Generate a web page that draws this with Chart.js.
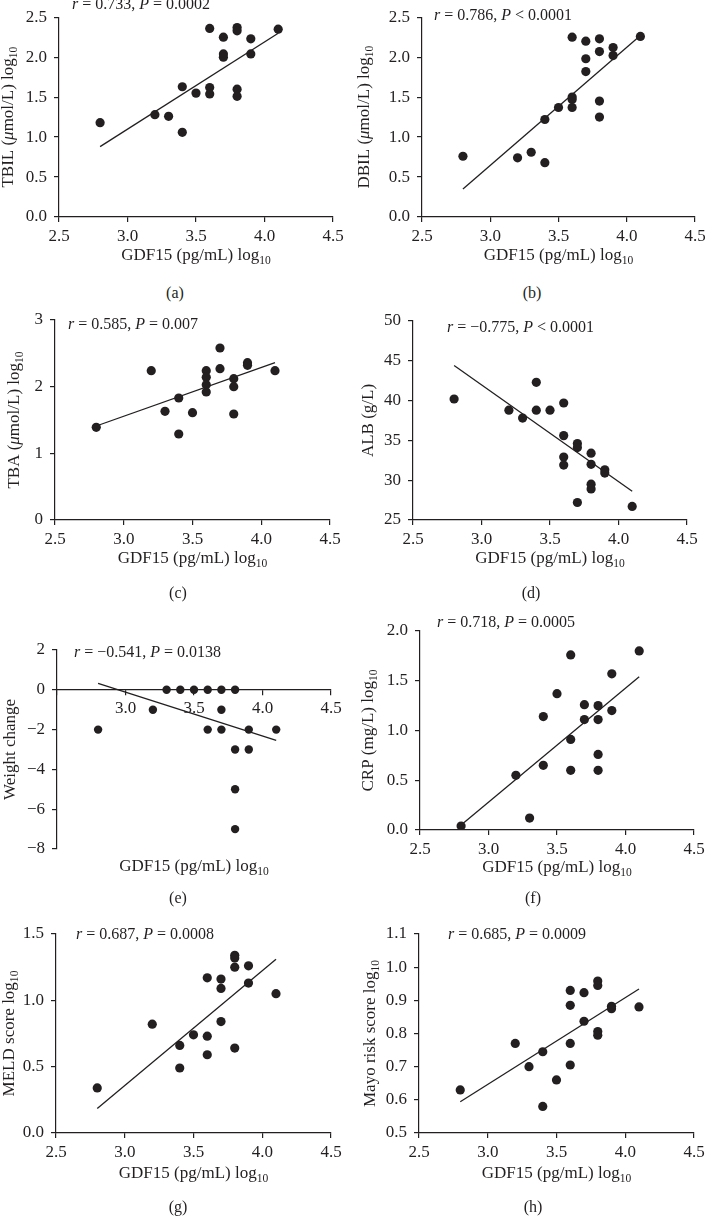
<!DOCTYPE html>
<html>
<head>
<meta charset="utf-8">
<script src="https://cdn.jsdelivr.net/npm/chart.js@4.4.1/dist/chart.umd.min.js"></script>
<style>
  html, body { margin: 0; padding: 0; background: #fff; }
  body { width: 705px; height: 1217px; position: relative; overflow: hidden; font-family: "Liberation Serif", "Times New Roman", serif; color: #231f20; }
  canvas { position: absolute; }
  .tag { position: absolute; width: 40px; margin-left: -20px; text-align: center; font-size: 16px; line-height: 20px; }
</style>
</head>
<body>
<div id="root"></div>
<script>
// GDF15 (log10) on x, one pair of arrays per panel
const gdfA = [2.8, 3.2, 3.3, 3.4, 3.4, 3.5, 3.6, 3.6, 3.6, 3.7, 3.7, 3.7, 3.8, 3.8, 3.8, 3.8, 3.9, 3.9, 4.1];
const tbil = [1.18, 1.28, 1.26, 1.06, 1.63, 1.55, 2.36, 1.62, 1.54, 2.25, 2.04, 2.00, 2.37, 2.33, 1.60, 1.51, 2.23, 2.04, 2.35];

const gdfB = [2.8, 3.2, 3.3, 3.4, 3.4, 3.5, 3.6, 3.6, 3.6, 3.6, 3.7, 3.7, 3.7, 3.8, 3.8, 3.8, 3.8, 3.9, 3.9, 4.1];
const dbil = [0.76, 0.74, 0.81, 0.68, 1.22, 1.37, 2.25, 1.50, 1.47, 1.37, 2.20, 1.98, 1.82, 2.23, 2.07, 1.45, 1.25, 2.12, 2.02, 2.26];

const gdfC = [2.8, 3.2, 3.3, 3.4, 3.4, 3.5, 3.6, 3.6, 3.6, 3.6, 3.7, 3.7, 3.8, 3.8, 3.8, 3.9, 3.9, 4.1];
const tba = [1.39, 2.24, 1.63, 1.83, 1.29, 1.61, 2.24, 2.14, 2.03, 1.92, 2.58, 2.27, 2.12, 2.00, 1.59, 2.36, 2.32, 2.24];

const gdfD = [2.8, 3.2, 3.3, 3.4, 3.4, 3.5, 3.6, 3.6, 3.6, 3.6, 3.7, 3.7, 3.7, 3.8, 3.8, 3.8, 3.8, 3.9, 3.9, 4.1];
const alb = [40.2, 38.8, 37.8, 42.3, 38.8, 38.8, 39.7, 35.6, 32.9, 31.9, 34.6, 34.1, 27.2, 33.4, 32.0, 29.5, 28.9, 31.3, 30.9, 26.7];

const gdfE = [2.8, 3.2, 3.3, 3.4, 3.5, 3.6, 3.7, 3.8, 3.7, 3.6, 3.7, 3.9, 4.1, 3.8, 3.9, 3.8, 3.8];
const weight = [-2, -1, 0, 0, 0, 0, 0, 0, -1, -2, -2, -2, -2, -3, -3, -5, -7];

const gdfF = [2.8, 3.2, 3.3, 3.4, 3.4, 3.5, 3.6, 3.6, 3.6, 3.7, 3.7, 3.8, 3.8, 3.8, 3.8, 3.9, 3.9, 4.1];
const crp = [0.04, 0.55, 0.12, 1.14, 0.65, 1.37, 1.76, 0.91, 0.60, 1.26, 1.11, 1.25, 1.11, 0.76, 0.60, 1.57, 1.20, 1.80];

const gdfG = [2.8, 3.2, 3.4, 3.4, 3.5, 3.6, 3.6, 3.6, 3.7, 3.7, 3.7, 3.8, 3.8, 3.8, 3.8, 3.9, 3.9, 4.1];
const meld = [0.34, 0.82, 0.66, 0.49, 0.74, 1.17, 0.73, 0.59, 1.16, 1.09, 0.84, 1.34, 1.32, 1.25, 0.64, 1.26, 1.13, 1.05];

const gdfH = [2.8, 3.2, 3.3, 3.4, 3.4, 3.5, 3.6, 3.6, 3.6, 3.6, 3.7, 3.7, 3.8, 3.8, 3.8, 3.8, 3.9, 3.9, 4.1];
const mayo = [0.63, 0.77, 0.70, 0.745, 0.58, 0.66, 0.93, 0.885, 0.77, 0.705, 0.923, 0.837, 0.958, 0.945, 0.806, 0.795, 0.882, 0.875, 0.88];

// regression lines: y at the two ends of fitX
const fitX = [2.8, 4.1];
const fitA = [0.88, 2.30];
const fitB = [0.35, 2.27];
const fitC = [1.41, 2.36];
const fitD = [44.4, 28.6];
const fitE = [0.32, -2.54];
const fitF = [0.05, 1.54];
const fitG = [0.185, 1.31];
const fitH = [0.594, 0.934];

const xTicks = [2.5, 3.0, 3.5, 4.0, 4.5];
const xTitle = 'GDF15 (pg/mL) log_10';

const ink = '#231f20';
const FONT = '"Liberation Serif", "Times New Roman", serif';

// layout: box = canvas [x, y, w, h], area = plot [left, top, right, bottom], page px
const panels = [
  { tag: '(a)', tagPos: [175, 293], box: [0, 0, 352, 275], area: [59, 17, 333, 217],
    xs: gdfA, ys: tbil, fit: fitA, y: [0, 2.5, 0.5, 1],
    yTitle: 'TBIL (*μ*mol/L) log_10', yTitleX: 9, xTitleY: 256,
    stat: '*r* = 0.733, *P* = 0.0002', statPos: [72, 5] },
  { tag: '(b)', tagPos: [532, 293], box: [352, 0, 365, 275], area: [422, 17, 695, 217],
    xs: gdfB, ys: dbil, fit: fitB, y: [0, 2.5, 0.5, 1],
    yTitle: 'DBIL (*μ*mol/L) log_10', yTitleX: 365, xTitleY: 256,
    stat: '*r* = 0.786, *P* < 0.0001', statPos: [434, 16] },
  { tag: '(c)', tagPos: [178, 593], box: [0, 300, 352, 285], area: [55, 320, 330, 520],
    xs: gdfC, ys: tba, fit: fitC, y: [0, 3, 1, 0],
    yTitle: 'TBA (*μ*mol/L) log_10', yTitleX: 15, xTitleY: 559,
    stat: '*r* = 0.585, *P* = 0.007', statPos: [68, 325] },
  { tag: '(d)', tagPos: [531, 593], box: [352, 300, 365, 285], area: [413, 321, 687, 520],
    xs: gdfD, ys: alb, fit: fitD, y: [25, 50, 5, 0],
    yTitle: 'ALB (g/L)', yTitleX: 369, xTitleY: 559,
    stat: '*r* = \u22120.775, *P* < 0.0001', statPos: [447, 328] },
  { tag: '(e)', tagPos: [178, 898], box: [0, 605, 352, 280], area: [57, 650, 331, 849],
    xs: gdfE, ys: weight, fit: fitE, y: [-8, 2, 2, 0], xAtZero: true,
    yTitle: 'Weight change', yTitleX: 11, xTitleY: 867,
    stat: '*r* = \u22120.541, *P* = 0.0138', statPos: [74, 653] },
  { tag: '(f)', tagPos: [533, 898], box: [352, 605, 365, 280], area: [420, 631, 694, 830],
    xs: gdfF, ys: crp, fit: fitF, y: [0, 2, 0.5, 1],
    yTitle: 'CRP (mg/L) log_10', yTitleX: 369, xTitleY: 868,
    stat: '*r* = 0.718, *P* = 0.0005', statPos: [437, 623] },
  { tag: '(g)', tagPos: [178, 1207], box: [0, 912, 352, 280], area: [56, 934, 331, 1133],
    xs: gdfG, ys: meld, fit: fitG, y: [0, 1.5, 0.5, 1],
    yTitle: 'MELD score log_10', yTitleX: 10, xTitleY: 1174,
    stat: '*r* = 0.687, *P* = 0.0008', statPos: [76, 935] },
  { tag: '(h)', tagPos: [533, 1207], box: [352, 912, 365, 280], area: [419, 934, 694, 1133],
    xs: gdfH, ys: mayo, fit: fitH, y: [0.5, 1.1, 0.1, 1],
    yTitle: 'Mayo risk score log_10', yTitleX: 371, xTitleY: 1174,
    stat: '*r* = 0.685, *P* = 0.0009', statPos: [448, 935] }
];

// *italic* and _sub markup
function runs(text) {
  return text.split(/(\*[^*]+\*|_\d+)/).filter(Boolean).map(s => {
    if (s[0] === '*') return { t: s.slice(1, -1), it: true };
    if (s[0] === '_') return { t: s.slice(1), sub: true };
    return { t: s };
  });
}

function fontFor(r, size) {
  const sz = r.sub ? size * 0.68 : size;
  return (r.it ? 'italic ' : '') + sz + 'px ' + FONT;
}

function drawRich(ctx, text, x, y, size, align, rot) {
  const rs = runs(text);
  let w = 0;
  rs.forEach(r => { ctx.font = fontFor(r, size); r.w = ctx.measureText(r.t).width; w += r.w; });
  ctx.save();
  ctx.translate(x, y);
  ctx.rotate(rot);
  ctx.textBaseline = 'middle';
  ctx.textAlign = 'left';
  let cx = align === 'center' ? -w / 2 : 0;
  rs.forEach(r => {
    ctx.font = fontFor(r, size);
    ctx.fillText(r.t, cx, r.sub ? size * 0.3 : 0);
    cx += r.w;
  });
  ctx.restore();
}

const richText = {
  id: 'richText',
  afterDraw(chart, args, o) {
    const ctx = chart.ctx;
    const a = chart.chartArea;
    ctx.save();
    ctx.fillStyle = ink;
    drawRich(ctx, o.stat, o.statX, o.statY, 16, 'left', 0);
    drawRich(ctx, xTitle, (a.left + a.right) / 2, o.xTitleY, 17, 'center', 0);
    drawRich(ctx, o.yTitle, o.yTitleX, (a.top + a.bottom) / 2, 17, 'center', -Math.PI / 2);
    ctx.restore();
  }
};

const minus = s => s.replace('-', '\u2212');

const root = document.getElementById('root');

panels.forEach(p => {
  const [bx, by, bw, bh] = p.box;
  const [al, at, ar, ab] = p.area;
  const [yMin, yMax, yStep, yDec] = p.y;

  const canvas = document.createElement('canvas');
  canvas.width = bw;
  canvas.height = bh;
  canvas.style.left = bx + 'px';
  canvas.style.top = by + 'px';
  root.appendChild(canvas);

  const tag = document.createElement('div');
  tag.className = 'tag';
  tag.textContent = p.tag;
  tag.style.left = p.tagPos[0] + 'px';
  tag.style.top = (p.tagPos[1] - 10) + 'px';
  root.appendChild(tag);

  const axisLine = { display: true, color: ink, width: 1.2 };
  const tickGrid = { drawOnChartArea: false, drawTicks: true, tickLength: 5, color: ink, lineWidth: 1.2 };
  const tickFont = { family: FONT, size: 17 };

  new Chart(canvas.getContext('2d'), {
    type: 'scatter',
    data: {
      datasets: [{
        data: p.xs.map((x, i) => ({ x: x, y: p.ys[i] })),
        backgroundColor: ink,
        borderWidth: 0,
        pointRadius: p.xAtZero ? 4.2 : 4.6,
        pointHoverRadius: 4.6
      }, {
        data: fitX.map((x, i) => ({ x: x, y: p.fit[i] })),
        showLine: true,
        borderColor: ink,
        borderWidth: 1.3,
        pointRadius: 0,
        fill: false
      }]
    },
    options: {
      responsive: false,
      animation: false,
      events: [],
      layout: {
        padding: {
          left: 0,
          top: at - by,
          right: bx + bw - ar,
          bottom: p.xAtZero ? by + bh - ab : 0
        }
      },
      plugins: {
        legend: { display: false },
        tooltip: { enabled: false },
        richText: {
          stat: p.stat, statX: p.statPos[0] - bx, statY: p.statPos[1] - by,
          yTitle: p.yTitle, yTitleX: p.yTitleX - bx, xTitleY: p.xTitleY - by
        }
      },
      scales: {
        x: {
          type: 'linear',
          position: p.xAtZero ? { y: 0 } : 'bottom',
          min: 2.5,
          max: 4.5,
          afterBuildTicks: s => { s.ticks = xTicks.map(v => ({ value: v })); },
          afterFit: s => { if (!p.xAtZero) s.height = by + bh - ab; },
          ticks: {
            autoSkip: false,
            maxRotation: 0,
            padding: 4,
            color: ink,
            font: tickFont,
            callback: v => (p.xAtZero && v === 2.5) ? '' : v.toFixed(1)
          },
          grid: tickGrid,
          border: axisLine
        },
        y: {
          type: 'linear',
          min: yMin,
          max: yMax,
          afterFit: s => { s.width = al - bx; },
          ticks: {
            stepSize: yStep,
            autoSkip: false,
            padding: 7,
            color: ink,
            font: tickFont,
            callback: v => minus(v.toFixed(yDec))
          },
          grid: tickGrid,
          border: axisLine
        }
      }
    },
    plugins: [richText]
  });
});
</script>
</body>
</html>
